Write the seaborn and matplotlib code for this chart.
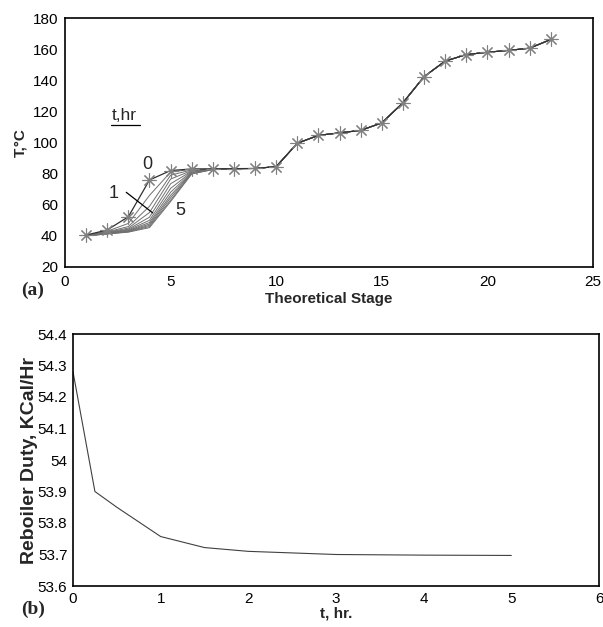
import matplotlib
matplotlib.use("Agg")
import matplotlib.pyplot as plt
import seaborn as sns
import pandas as pd
import numpy as np

# ---------------- data ----------------
stages = list(range(1, 24))
# t = 0 profile (full column)
T_t0 = [40.5, 43.8, 52.3, 75.9, 82.0, 83.0, 83.0, 83.2, 83.3, 84.5, 99.5, 104.6, 106.2,
        107.8, 112.6, 125.5, 142.3, 152.3, 156.5, 158.0, 159.2, 160.6, 166.2]
# later times: stages 1..7 change, the rest equal to t=0
times = [0.5, 1.0, 1.5, 2.0, 2.5, 3.0, 3.5, 4.0, 4.5, 5.0]
T_st1 = [40.3, 40.2, 40.1, 40.0, 40.0, 40.0, 40.0, 40.0, 40.0, 40.0]
T_st2 = [43.0, 42.5, 42.2, 42.0, 41.8, 41.6, 41.5, 41.4, 41.3, 41.2]
T_st3 = [48.0, 46.0, 45.0, 44.3, 43.8, 43.4, 43.1, 42.8, 42.6, 42.4]
T_st4 = [66.0, 59.0, 55.0, 52.0, 50.0, 48.6, 47.6, 46.8, 46.0, 45.3]
T_st5 = [81.0, 79.0, 76.5, 73.5, 70.5, 68.0, 66.0, 64.5, 63.0, 62.0]
T_st6 = [82.8, 82.4, 82.0, 81.6, 81.2, 80.8, 80.5, 80.2, 80.0, 79.8]
T_st7 = [83.0, 83.0, 82.9, 82.9, 82.8, 82.8, 82.7, 82.7, 82.6, 82.6]

# reboiler duty
t_duty = [0.0, 0.25, 0.5, 1.0, 1.5, 2.0, 3.0, 4.0, 5.0]
duty = [54.28, 53.90, 53.85, 53.757, 53.722, 53.710, 53.700, 53.698, 53.697]

# ---------------- build frames ----------------
rows = []
for i, tt in enumerate(times):
    early = [T_st1[i], T_st2[i], T_st3[i], T_st4[i], T_st5[i], T_st6[i], T_st7[i]]
    prof = early + T_t0[7:]
    for s, v in zip(stages, prof):
        rows.append({"stage": s, "T": v, "t": tt})
df_later = pd.DataFrame(rows)
df0 = pd.DataFrame({"stage": stages, "T": T_t0})
dfd = pd.DataFrame({"t": t_duty, "duty": duty})

# ---------------- style ----------------
sns.set_theme(style="white")
plt.rcParams["font.family"] = ["Liberation Sans", "DejaVu Sans"]

fig = plt.figure(figsize=(6.03, 6.27), dpi=100)
W, H = 603, 627
ax1 = fig.add_axes([65 / W, 1 - 267 / H, 528 / W, 249 / H])
ax2 = fig.add_axes([73 / W, 1 - 586 / H, 526 / W, 252 / H])

# ---- top panel ----
sns.lineplot(data=df_later, x="stage", y="T", hue="t", palette=["#707070"] * len(times),
             linewidth=0.7, legend=False, ax=ax1, estimator=None)
sns.lineplot(data=df0, x="stage", y="T", color="#303030", linewidth=0.9,
             marker=(8, 2, 0), markersize=10, markeredgecolor="#808080",
             markeredgewidth=0.8, ax=ax1)
ax1.set_xlim(0, 25)
ax1.set_ylim(20, 180)
ax1.set_xticks([0, 5, 10, 15, 20, 25])
ax1.set_yticks(range(20, 181, 20))
ax1.set_xlabel("Theoretical Stage", fontsize=11, fontweight="bold", labelpad=2)
ax1.set_ylabel("T,°C", fontsize=11, fontweight="bold", labelpad=4)
ax1.text(2.2, 112.5, "t,hr", fontsize=12.5, ha="left", va="bottom")
ax1.plot([2.2, 3.55], [111.5, 111.5], color="black", lw=0.9)
ax1.text(3.9, 86, "0", fontsize=13, ha="center", va="center")
ax1.text(2.3, 67.5, "1", fontsize=13, ha="center", va="center")
ax1.text(5.45, 56.5, "5", fontsize=13, ha="center", va="center")
ax1.plot([2.9, 4.15], [68, 54.8], color="black", lw=0.9)
fig.text(21 / W, 1 - 290 / H, "(a)", fontsize=14, fontweight="bold",
         family=["Liberation Serif", "DejaVu Serif"], ha="left", va="center")

# ---- bottom panel ----
sns.lineplot(data=dfd, x="t", y="duty", color="#404040", linewidth=0.8, ax=ax2)
ax2.set_xlim(0, 6)
ax2.set_ylim(53.6, 54.4)
ax2.set_xticks(range(0, 7))
yt = [53.6, 53.7, 53.8, 53.9, 54.0, 54.1, 54.2, 54.3, 54.4]
ax2.set_yticks(yt)
ax2.set_yticklabels(["53.6", "53.7", "53.8", "53.9", "54", "54.1", "54.2", "54.3", "54.4"])
ax2.set_xlabel("t, hr.", fontsize=11, fontweight="bold", labelpad=1)
ax2.set_ylabel("Reboiler Duty, KCal/Hr", fontsize=14, fontweight="bold", labelpad=0)
fig.text(21 / W, 1 - 609 / H, "(b)", fontsize=14, fontweight="bold",
         family=["Liberation Serif", "DejaVu Serif"], ha="left", va="center")

for ax in (ax1, ax2):
    for sp in ax.spines.values():
        sp.set_color("black")
        sp.set_linewidth(1.2)
    ax.tick_params(axis="both", direction="in", length=3, width=0.6, color="#909090",
                   labelsize=11, labelcolor="black")
    ax.grid(False)
ax1.tick_params(axis="x", pad=6)
ax1.tick_params(axis="y", pad=5)
ax2.tick_params(axis="x", pad=4)
ax2.tick_params(axis="y", pad=4)

fig.savefig("out.png", dpi=100, facecolor="white")
